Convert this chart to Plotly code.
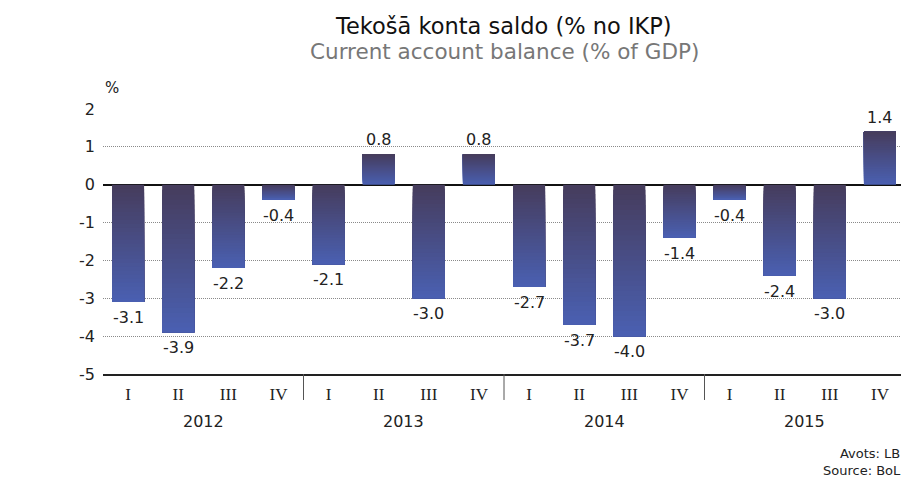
import plotly.graph_objects as go

years = ["2012", "2013", "2014", "2015"]
quarters = ["I", "II", "III", "IV"]
values = [-3.1, -3.9, -2.2, -0.4,
          -2.1, 0.8, -3.0, 0.8,
          -2.7, -3.7, -4.0, -1.4,
          -0.4, -2.4, -3.0, 1.4]
labels = [f"{v:.1f}" for v in values]
y_ticks = [2, 1, 0, -1, -2, -3, -4, -5]
title_lv = "Tekošā konta saldo (% no IKP)"
title_en = "Current account balance (% of GDP)"
source_text = "Avots: LB<br>Source: BoL"

DARK = (70, 60, 92)
LIGHT = (74, 96, 178)
N = 30

x = list(range(len(values)))
tick_text = quarters * len(years)


def mix(t):
    r = [round(DARK[i] + (LIGHT[i] - DARK[i]) * t) for i in range(3)]
    return f"rgb({r[0]},{r[1]},{r[2]})"


fig = go.Figure()
# gradient bars: overlapping slices, each from an inner point to the bar end
for k in range(N):
    cols = []
    for v in values:
        frac = (k + 0.5) / N
        t = frac if v < 0 else 1 - frac
        cols.append(mix(t))
    fig.add_trace(go.Bar(
        x=x,
        base=[v * k / N for v in values],
        y=[v * (N - k) / N for v in values],
        marker=dict(color=cols, line=dict(width=0)),
        width=0.64, showlegend=False, hoverinfo="skip",
    ))

FONT = "DejaVu Sans"
annotations = []
for xi, v, lab in zip(x, values, labels):
    annotations.append(dict(
        text=lab, x=xi, y=v, xref="x", yref="y", showarrow=False,
        yanchor="top" if v < 0 else "bottom",
        yshift=-4 if v < 0 else 3,
        font=dict(family=FONT, size=16, color="#222"),
    ))
for i, yr in enumerate(years):
    annotations.append(dict(text=yr, x=i * 4 + 1.5, xref="x", y=-0.181, yref="paper",
                            yanchor="middle", showarrow=False,
                            font=dict(family=FONT, size=16, color="#222")))
annotations.append(dict(text="%", x=0.0112, xref="paper", y=1.079, yref="paper",
                        xanchor="center", yanchor="middle", showarrow=False,
                        font=dict(family=FONT, size=15, color="#222")))
annotations.append(dict(text=title_lv, x=0.4988, xref="paper", y=1.315, yref="paper",
                        xanchor="center", yanchor="middle", showarrow=False,
                        font=dict(family=FONT, size=22.5, color="#111")))
annotations.append(dict(text=title_en, x=0.5, xref="paper", y=1.2151, yref="paper",
                        xanchor="center", yanchor="middle", showarrow=False,
                        font=dict(family=FONT, size=21.5, color="#777")))
annotations.append(dict(text=source_text, x=0.9975, xref="paper", y=-0.266, yref="paper",
                        xanchor="right", yanchor="top", align="right", showarrow=False,
                        font=dict(family=FONT, size=13, color="#222")))

shapes = []
for i in range(1, len(years)):
    shapes.append(dict(type="line", x0=i * 4 - 0.5, x1=i * 4 - 0.5, xref="x",
                       y0=0, y1=-0.098, yref="paper", line=dict(color="#555", width=1)))

fig.update_layout(
    width=901, height=471,
    margin=dict(l=95, r=4, t=101, b=105),
    paper_bgcolor="white", plot_bgcolor="white",
    barmode="overlay",
    xaxis=dict(
        tickmode="array", tickvals=x, ticktext=tick_text,
        range=[-0.5, len(values) - 0.5],
        tickfont=dict(family="Liberation Serif", size=17, color="#222"),
        showgrid=False, zeroline=False,
        showline=True, linecolor="#222", linewidth=2, ticks="", ticklabelstandoff=4,
    ),
    yaxis=dict(
        range=[-5, 2], tickvals=y_ticks, ticktext=[str(t) for t in y_ticks],
        tickfont=dict(family=FONT, size=16, color="#222"),
        showgrid=True, gridcolor="#8a8a8a", griddash="1px,1px", gridwidth=1,
        zeroline=True, zerolinecolor="#111", zerolinewidth=2,
        showline=False, ticks="", ticklabelstandoff=7,
    ),
    annotations=annotations, shapes=shapes,
)

fig.write_html("out.html")
